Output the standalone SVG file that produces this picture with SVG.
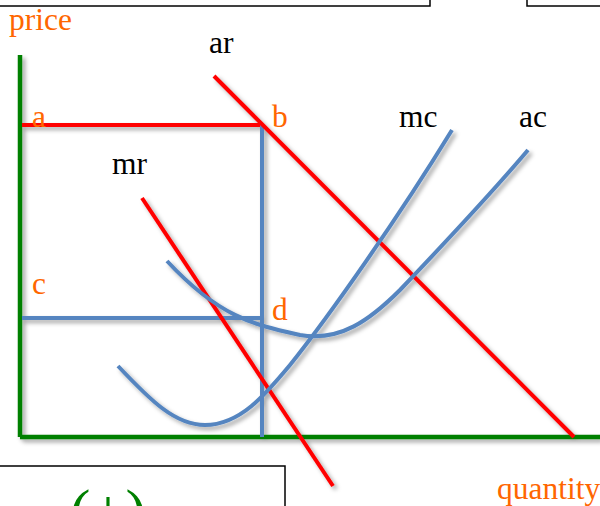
<svg xmlns="http://www.w3.org/2000/svg" width="600" height="506" viewBox="0 0 600 506">
<defs>
<filter id="sh" x="-20%" y="-20%" width="140%" height="140%">
<feDropShadow dx="3" dy="3" stdDeviation="2" flood-color="#000" flood-opacity="0.35"/>
</filter>
<clipPath id="clipbox"><rect x="0" y="466" width="285" height="40"/></clipPath>
<style>
.box{fill:#fff;stroke:#000;stroke-width:1.5}
.ax{stroke:#008000;stroke-width:4.5;fill:none}
.red{stroke:#ff0000;stroke-width:4;fill:none}
.blue{stroke:#5585c0;stroke-width:4;fill:none}
.lb{font-family:"Liberation Serif",serif;font-size:31.5px}
.or{fill:#ff6600}
.bk{fill:#000}
</style>
</defs>
<g id="frames">
<rect class="box" x="-2" y="-10" width="432" height="16"/>
<rect class="box" x="527" y="-10" width="80" height="16"/>
<rect class="box" x="-2" y="466" width="287" height="50"/>
<text class="lb" x="108" y="532" text-anchor="middle" clip-path="url(#clipbox)" style="font-size:62px;fill:#008000">(+)</text>
</g>
<g id="connectors" filter="url(#sh)">
<line id="y-axis" class="ax" x1="20" y1="55" x2="20" y2="437"/>
<line id="x-axis" class="ax" x1="20" y1="437" x2="600" y2="437"/>
<line class="red" x1="22" y1="125" x2="262" y2="125"/>
<line class="blue" x1="262" y1="125" x2="262" y2="437"/>
<line class="blue" x1="22" y1="318" x2="262" y2="318"/>
<line id="ar" class="red" x1="214" y1="76" x2="574" y2="437"/>
<line id="mr" class="red" x1="142" y1="198" x2="333" y2="486"/>
<path id="mc" class="blue" d="M118,366 C150,400 175,425 205,425 C240,425 265,395 290,365 C330,315 400,215 452,130"/>
<path id="ac" class="blue" d="M167,261 C220,318 255,325 300,335 C340,342 370,320 400,290 C440,248 490,195 528,150"/>
</g>
<g id="labels">
<text class="lb or" x="9" y="30">price</text>
<text class="lb bk" x="209" y="53">ar</text>
<text class="lb or" x="32" y="127">a</text>
<text class="lb or" x="272" y="127">b</text>
<text class="lb bk" x="399" y="127">mc</text>
<text class="lb bk" x="519" y="127">ac</text>
<text class="lb bk" x="112" y="174">mr</text>
<text class="lb or" x="32" y="294">c</text>
<text class="lb or" x="272" y="320">d</text>
<text class="lb or" x="497" y="499">quantity</text>
</g>
</svg>
